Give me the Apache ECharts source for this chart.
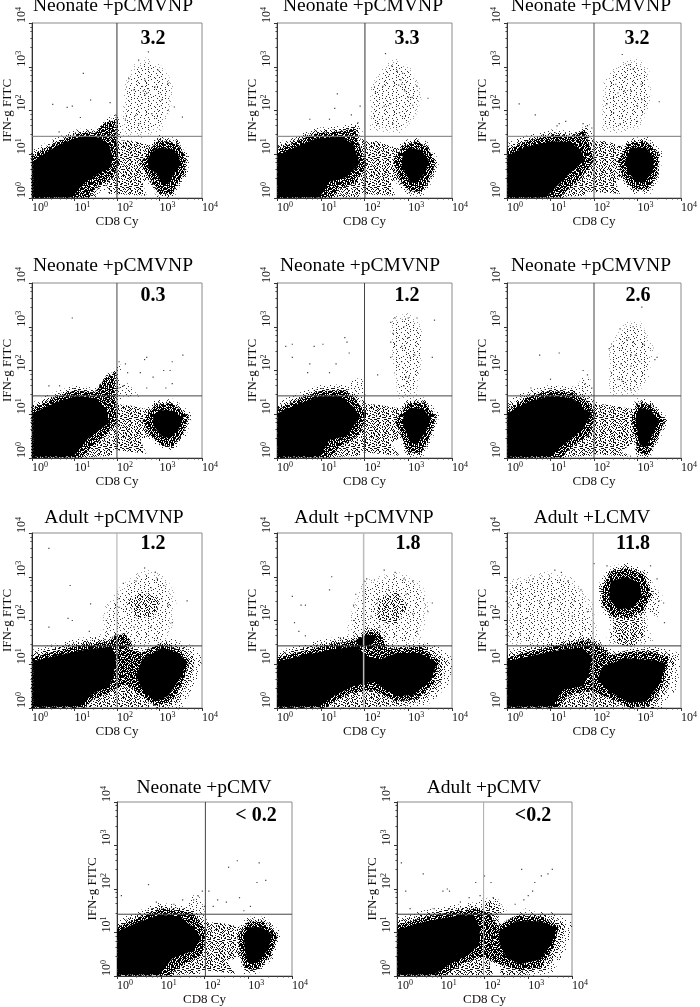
<!DOCTYPE html>
<html><head><meta charset="utf-8">
<style>html,body{margin:0;padding:0;background:#fff}#c{width:700px;height:1007px}</style>
<script src="https://cdn.jsdelivr.net/npm/echarts@6/dist/echarts.min.js"></script>
</head><body><div id="c"></div>
<script>
const panelTitles=['Neonate +pCMVNP','Neonate +pCMVNP','Neonate +pCMVNP','Neonate +pCMVNP','Neonate +pCMVNP','Neonate +pCMVNP','Adult +pCMVNP','Adult +pCMVNP','Adult +LCMV','Neonate +pCMV','Adult +pCMV'];
const panelPercents=['3.2','3.3','3.2','0.3','1.2','2.6','1.2','1.8','11.8','< 0.2','<0.2'];
const tickDecades=[0,1,2,3,4];
const gateCD8=[2,2.01,2,2,2,2,2,1.98,1.98,2.02,1.98];
const gateIFN=[1.41,1.41,1.41,1.42,1.42,1.42,1.42,1.42,1.42,1.42,1.42];

// solid (fully saturated) populations
const solid1=[[[.03,.02],[.03,.84],[.3,1.02],[.6,1.2],[1,1.36],[1.3,1.42],[1.6,1.38],[1.82,1.2],[1.9,.95],[1.85,.7],[1.6,.58],[1.3,.4],[1.1,.2],[.95,.02]],[[2.98,1.15],[3.3,1.12],[3.47,.95],[3.47,.72],[3.3,.5],[3.2,.32],[3.05,.32],[2.95,.55],[2.74,.68],[2.72,.9],[2.82,1.05]]];
const solid2=[[[.02,.02],[.02,.98],[.44,1.17],[.9,1.36],[1.44,1.4],[1.74,1.24],[1.89,.79],[1.59,.48],[1.2,.37],[.98,.02]],[[3,1.15],[3.3,1.1],[3.47,.85],[3.4,.6],[3.2,.35],[3.05,.35],[2.95,.55],[2.85,.75],[2.87,.98]]];
const solid3=[[[.02,.02],[.02,.98],[.44,1.17],[1.05,1.3],[1.44,1.28],[1.7,1.1],[1.78,.86],[1.44,.56],[1.13,.25],[.9,.02]],[[2.85,1.15],[3.2,1.15],[3.38,.9],[3.35,.6],[3.15,.35],[2.95,.38],[2.78,.6],[2.72,.85]]];
const solid4=[[[.03,.03],[.03,1.03],[.53,1.26],[1.02,1.41],[1.48,1.37],[1.75,1.11],[1.82,.8],[1.37,.5],[.98,.04]],[[3,1.1],[3.3,1.08],[3.56,.92],[3.45,.65],[3.25,.45],[3.05,.5],[2.85,.75],[2.85,.95]]];
const solid5=[[[.02,.03],[.02,1.03],[.44,1.22],[.98,1.41],[1.44,1.41],[1.74,1.18],[1.9,.95],[1.59,.5],[1.2,.42],[.98,.04]],[[3.05,1.15],[3.35,1.12],[3.52,.9],[3.4,.6],[3.2,.32],[3.05,.35],[2.95,.6],[2.87,.8],[2.9,1]]];
const solid6=[[[.02,.03],[.02,1.03],[.5,1.29],[.98,1.41],[1.5,1.37],[1.78,1.11],[1.95,1.03],[1.74,.65],[1.44,.42],[.98,.04]],[[3.05,1.15],[3.3,1.1],[3.5,.85],[3.35,.55],[3.2,.25],[3.05,.3],[3,.6],[2.95,.9]]];
const solid7=[[[.03,.03],[.03,1.07],[.68,1.22],[1.29,1.34],[1.85,1.4],[1.98,1.18],[1.92,.75],[1.82,.5],[1.44,.34],[1.14,.04]],[[2.59,1.11],[3.05,1.37],[3.43,1.26],[3.64,1.07],[3.52,.73],[3.2,.27],[2.89,.15],[2.6,.42],[2.45,.72]]];
const solid8=[[[.02,.03],[.02,1.07],[.67,1.22],[1.28,1.34],[1.82,1.41],[2.05,1.18],[2.35,1.11],[2.73,1.26],[3.27,1.26],[3.65,1.03],[3.53,.65],[3.11,.3],[2.73,.27],[2.2,.61],[1.74,.5],[1.28,.27],[.98,.04]],[[1.78,1.53],[2.05,1.68],[2.28,1.64],[2.17,1.45],[1.9,1.41]]];
const solid9=[[[.02,.03],[.02,1.07],[.67,1.22],[1.28,1.34],[1.72,1.38],[1.95,1.18],[1.88,.75],[1.74,.5],[1.28,.42],[1.05,.04]],[[2.2,.95],[2.73,1.14],[3.27,1.1],[3.65,1.03],[3.53,.58],[3.19,.15],[2.81,.12],[2.35,.38],[2.08,.65]],[[2.38,2.9],[2.75,3],[3.05,2.85],[3.1,2.55],[2.9,2.3],[2.55,2.25],[2.35,2.5]]];
const solid10=[[[.02,.03],[.02,1.03],[.44,1.22],[.98,1.41],[1.44,1.37],[1.74,1.11],[1.93,.88],[1.74,.58],[1.28,.42],[.98,.04]],[[3,1.12],[3.3,1.12],[3.55,.95],[3.45,.6],[3.2,.3],[3,.3],[2.92,.6],[2.9,.9]]];
const solid11=[[[.02,.03],[.02,1.07],[.67,1.26],[1.28,1.37],[1.75,1.41],[1.9,1.11],[1.88,.75],[1.66,.5],[1.2,.27],[.86,.04]],[[2.32,1.03],[2.73,1.26],[3.27,1.26],[3.65,1.11],[3.53,.73],[3.27,.38],[2.81,.27],[2.5,.42],[2.35,.73]]];

// dense speckle around the populations
const dense1=[[[0,0],[0,.95],[.3,1.12],[.7,1.32],[1.1,1.48],[1.5,1.5],[1.72,1.72],[1.95,1.78],[1.98,1.35],[2.05,.8],[1.9,.45],[1.5,.25],[1.35,.02]],[[2.55,.8],[2.8,1.15],[3,1.32],[3.4,1.25],[3.62,.95],[3.58,.55],[3.4,.3],[3.3,.1],[3,.1],[2.8,.4]]];
const dense2=[[[0,0],[0,1.1],[.44,1.3],[.9,1.48],[1.44,1.52],[1.78,1.6],[1.85,1.3],[2.05,.75],[1.8,.35],[1.4,.2],[1.25,.02]],[[2.65,.85],[2.9,1.2],[3.2,1.3],[3.45,1.15],[3.62,.8],[3.5,.45],[3.3,.15],[3.05,.15],[2.8,.4]]];
const dense3=[[[0,0],[0,1.1],[.44,1.3],[1.05,1.45],[1.5,1.42],[1.78,1.55],[1.9,1.2],[2,.85],[1.7,.45],[1.35,.15],[1.2,.02]],[[2.55,.85],[2.8,1.25],[3.2,1.3],[3.48,1],[3.45,.55],[3.25,.2],[2.9,.2],[2.65,.5]]];
const dense4=[[[0,0],[0,1.12],[.53,1.38],[1.02,1.55],[1.48,1.5],[1.7,1.8],[1.95,1.95],[1.95,1.3],[2,.8],[1.6,.4],[1.35,.2],[1.2,.02]],[[2.6,.85],[2.9,1.22],[3.3,1.25],[3.68,.95],[3.55,.55],[3.3,.25],[3.05,.3],[2.75,.55]]];
const dense5=[[[0,0],[0,1.1],[.44,1.32],[.98,1.53],[1.5,1.55],[1.75,1.4],[2.05,1],[1.9,.55],[1.5,.3],[1.2,.02]],[[2.7,.85],[3,1.25],[3.35,1.27],[3.63,.95],[3.5,.5],[3.3,.12],[3,.12],[2.85,.5]]];
const dense6=[[[0,0],[0,1.1],[.5,1.4],[.98,1.53],[1.5,1.5],[1.85,1.3],[2.05,1],[1.9,.55],[1.55,.3],[1.25,.02]],[[2.85,.9],[3,1.25],[3.3,1.22],[3.63,.85],[3.45,.45],[3.25,.08],[3,.12],[2.95,.5]]];
const dense7=[[[0,0],[0,1.15],[.68,1.33],[1.29,1.47],[1.9,1.52],[2.1,1.45],[2.55,1.25],[3.05,1.47],[3.5,1.32],[3.7,1.07],[3.58,.65],[3.3,.15],[2.89,.05],[2.5,.35],[2.2,.55],[1.8,.35],[1.44,.2],[1.25,.02]],[[1.75,1.45],[1.95,1.65],[2.2,1.7],[2.35,1.45],[2.1,1.3]]];
const dense8=[[[0,0],[0,1.15],[.67,1.32],[1.28,1.47],[1.8,1.55],[2.05,1.75],[2.35,1.72],[2.5,1.37],[2.73,1.36],[3.3,1.4],[3.72,1.07],[3.58,.55],[3.2,.2],[2.73,.15],[2.2,.4],[1.7,.35],[1.3,.15],[1.15,.02]]];
const dense9=[[[0,0],[0,1.15],[.67,1.32],[1.28,1.45],[1.78,1.55],[2.1,1.45],[2.4,1.2],[2.73,1.28],[3.27,1.3],[3.72,1.15],[3.58,.5],[3.25,.05],[2.81,.02],[2.3,.25],[1.9,.4],[1.4,.3],[1.2,.02]],[[2.18,2.75],[2.4,3.12],[2.75,3.2],[3.15,3.05],[3.32,2.6],[3.1,2.2],[2.8,2.05],[2.4,2.1],[2.2,2.4]]];
const dense10=[[[0,0],[0,1.12],[.44,1.33],[.98,1.55],[1.44,1.5],[1.75,1.45],[2.05,1],[1.95,.5],[1.5,.25],[1.2,.02]],[[2.75,.9],[3,1.25],[3.35,1.25],[3.66,.95],[3.5,.45],[3.2,.15],[2.95,.15],[2.82,.5]]];
const dense11=[[[0,0],[0,1.17],[.67,1.36],[1.28,1.48],[1.82,1.55],[2.1,1.45],[2.3,1.15],[2.73,1.38],[3.3,1.36],[3.7,1.15],[3.58,.65],[3.3,.2],[2.8,.12],[2.3,.3],[1.97,.45],[1.5,.3],[1.1,.02]]];

// thinner speckle: bridge between the two lower populations, tail above the gate
const mid1=[[[1.8,.1],[1.8,1.3],[2.3,1.32],[2.8,1.2],[2.8,.5],[2.6,.35],[2.7,.05]],[[.1,.02],[1.5,.02],[1.5,.5],[.9,.3]]];
const mid2=[[[1.8,.1],[1.8,1.3],[2.3,1.3],[2.85,1.1],[2.85,.5],[2.6,.35],[2.7,.05]],[[1,.02],[1.9,.02],[1.9,.5],[1.4,.4]]];
const mid3=[[[1.8,.15],[1.8,1.3],[2.3,1.3],[2.7,1.15],[2.7,.5],[2.5,.35],[2.6,.1]],[[1,.02],[1.8,.05],[1.8,.5],[1.4,.35]]];
const mid4=[[[1.8,.2],[1.8,1.25],[2.3,1.2],[2.8,1.1],[2.8,.55],[2.55,.4],[2.7,.1]],[[1.2,.02],[1.9,.05],[1.9,.5],[1.5,.35]]];
const mid5=[[[1.8,.15],[1.8,1.25],[2.3,1.22],[2.9,1.12],[2.9,.5],[2.6,.35],[2.8,.05]],[[1.1,.02],[1.9,.05],[1.9,.5],[1.5,.35]]];
const mid6=[[[1.85,.1],[1.85,1.25],[2.3,1.22],[3,1.1],[3,.4],[2.6,.15],[2.9,.03]],[[1.15,.02],[1.95,.05],[1.95,.5],[1.5,.35]]];
const mid7=[[[2,.02],[2,1.3],[2.6,1.22],[2.6,.35],[2.8,.02]],[[1.25,.02],[2,.02],[2,.5],[1.5,.2]],[[2.25,2.45],[2.6,2.65],[3,2.5],[2.9,2.1],[2.45,2.05]]];
const mid8=[[[1.9,.02],[1.9,.5],[2.3,.6],[2.8,.25],[3,.05]],[[1.2,.02],[1.9,.02],[1.9,.4],[1.4,.2]],[[2.3,2.5],[2.75,2.65],[3,2.3],[2.7,1.9],[2.3,2]]];
const mid9=[[[1.9,.02],[1.95,1.35],[2.35,1.1],[2.25,.4],[2.6,.1],[2.5,.02]],[[1.1,.02],[1.9,.02],[1.9,.45],[1.4,.35]],[[2.45,2.1],[3.1,2.15],[3.15,1.65],[2.9,1.4],[2.5,1.45]]];
const mid10=[[[1.85,.15],[1.85,1.25],[2.4,1.22],[2.95,1.1],[2.9,.45],[2.5,.35],[2.7,.05]],[[1.05,.02],[1.9,.05],[1.9,.5],[1.5,.3]]];
const mid11=[[[2,.45],[1.85,1.5],[2.15,1.75],[2.35,1.6],[2.3,1.1],[2.3,.4]],[[1.05,.02],[2.2,.02],[2.1,.35],[1.95,.5],[1.5,.3]],[[2.35,.02],[3,.02],[2.8,.2],[2.4,.3]]];

// sparse events (IFN-g positive clusters and other thin areas)
const sparse1=[[[2.2,1.55],[2.25,2.55],[2.45,2.95],[2.7,3.1],[3.05,2.9],[3.25,2.55],[3.2,2.1],[3,1.65],[2.6,1.5]]];
const sparse2=[[[2.2,1.65],[2.2,2.5],[2.5,2.95],[2.75,3.1],[3.05,2.85],[3.25,2.35],[3.1,1.9],[2.8,1.6]]];
const sparse3=[[[2.25,1.65],[2.3,2.65],[2.6,3],[2.95,3.1],[3.2,2.85],[3.25,2.2],[3,1.7],[2.6,1.6]]];
const sparse4=[[[1.95,1.42],[2,1.85],[2.25,1.7],[2.5,1.42]]];
const sparse5=[[[2.8,1.5],[2.65,2.5],[2.65,3.1],[3.05,3.2],[3.3,2.85],[3.25,2.1],[3.15,1.5]],[[1.55,1.5],[1.75,1.8],[1.95,1.8],[2,1.45]]];
const sparse6=[[[2.4,1.55],[2.4,2.5],[2.75,3],[3.05,3],[3.3,2.5],[3.2,1.85],[2.95,1.55]],[[1.55,1.5],[1.75,1.85],[1.9,1.8],[1.95,1.45]]];
const sparse7=[[[1.7,1.55],[1.85,2.35],[2.15,2.7],[2.6,3.05],[3.05,2.95],[3.3,2.45],[3.2,1.9],[3,1.5],[2.4,1.45]]];
const sparse8=[[[1.65,1.55],[1.85,2.3],[2.05,2.8],[2.7,3],[3.2,2.8],[3.35,2.3],[3.2,1.65],[2.85,1.45],[2.3,1.75]]];
const sparse9=[[[.1,1.55],[.1,2.8],[.9,3],[1.45,2.9],[1.85,2.35],[2,1.5],[1.2,1.5]],[[2.35,1.5],[2.4,2.1],[3.15,2.1],[3.3,1.5]],[[3.2,2.2],[3.35,2.8],[3.55,2.55],[3.48,2.1]]];
const sparse10=[[[1.55,1.5],[1.72,1.85],[1.9,1.8],[2,1.45]]];
const sparse11=[[[1.75,1.45],[1.9,1.75],[2.25,1.8],[2.5,1.45]],[[2.75,1.42],[2.95,1.55],[3.15,1.42]]];

// individually readable events
const events1=[[.49,2.14],[.83,2.07],[.95,2.1],[1.21,2.85],[1.38,2.24],[1.84,2.18],[1.14,1.84],[2.74,3.34],[2.51,3.15],[2.66,2.69],[2.97,2.92],[2.7,2.39],[2.4,2.47],[3.05,2.24],[3.2,2],[3.35,2.08],[3.54,1.85],[2.44,1.89],[2.51,1.7],[2.2,1.78],[2.82,1.93],[3.2,2.62],[2.59,2.16],[2.89,2.54],[2.28,2.73],[1.67,1.47],[1.82,1.63],[1.98,1.89],[.98,1.47],[.64,1.51],[2.62,2.45],[2.72,2.5],[2.6,2.55],[2.66,2.35]];
const events2=[[1.38,2.38],[1.32,2.05],[1.7,1.9],[1.9,2.1],[1.85,1.72],[.75,1.8],[1.2,1.8],[2.48,3.3],[2.62,3.02],[2.75,2.9],[2.87,2.85],[2.78,2.58],[2.92,2.45],[3,2.3],[3.09,2.3],[3.1,2.12],[3.45,2.28],[2.42,2.55],[2.25,2.4],[2.45,2.1],[2.5,1.8],[2.65,1.7],[2.8,1.95],[2.6,2.15],[2.3,1.7],[2.85,2.6],[2.83,2.7],[3.2,2.55]];
const events3=[[.28,2.15],[.65,1.9],[1.15,1.65],[1.2,1.7],[1.35,1.75],[1.75,1.7],[1.85,1.65],[1.95,1.6],[2.65,3.28],[2.8,3.05],[2.72,2.75],[2.5,2.6],[2.45,2.3],[2.72,2.2],[3.05,2.8],[3.08,2.6],[3.1,2.25],[3.5,2.2],[2.3,2.15],[2.45,1.95],[2.6,1.7],[3,1.75],[2.85,2.45],[2.55,2.4],[2.7,2.45],[3,2.1],[2.9,2.95]];
const events4=[[.4,1.65],[.65,1.65],[.95,3.2],[1.6,1.6],[1.8,1.7],[1.92,1.95],[2.05,2.2],[2.2,2.15],[2.25,1.95],[2.55,1.95],[2.7,2.3],[2.65,2.25],[3.1,2],[3.25,2],[3.3,2.2],[3.55,2.35],[2.05,1.6],[2.15,1.65],[2.7,1.6],[3.15,1.6],[3.3,1.7],[2.85,1.85]];
const events5=[[.2,2.55],[.35,2.6],[.35,2.3],[.85,2.55],[1.05,2.6],[1.55,2.75],[1.6,2.65],[.7,1.95],[.75,2.15],[1.2,1.95],[1.35,2.15],[1.65,2.4],[2.7,3.2],[2.6,3.1],[3,3.2],[3.2,3.2],[2.65,2.85],[2.9,3],[3,2.75],[2.85,2.55],[2.6,2.65],[3.05,2.3],[3.15,2.35],[3.55,2.3],[3.6,3.15],[2.85,2.2],[2.6,2.3],[2.3,1.9],[2.95,1.85],[2.98,1.75],[3.02,1.85],[2.9,1.65]];
const events6=[[.75,2.35],[1.2,2.4],[1,1.8],[.55,1.6],[1.75,2],[1.85,1.9],[1.8,1.7],[1.95,1.6],[3.1,3.45],[2.9,3],[2.8,2.75],[2.9,2.65],[2.45,2.55],[2.85,2.35],[2.95,2.35],[3.05,2.2],[2.62,2.15],[2.55,1.8],[2.65,1.75],[2.85,2.1],[3.45,2.3],[3.4,2.25],[2.95,1.75],[2.85,1.55],[2.35,2.5],[3.15,2.6],[2.75,2.7],[2.6,2.95]];
const events7=[[.4,3.65],[.9,2.8],[1.38,2.38],[.95,2],[.85,2.05],[.4,1.85],[1.35,1.75],[1.75,2],[2.65,3.2],[2.9,3.1],[2.15,2.85],[2.45,2.9],[2.05,2.5],[2.05,2.3],[2.8,2.75],[2.6,2.55],[3.05,2.5],[3.2,2.35],[3.65,2.45],[3.3,1.95],[2.4,1.85],[2.8,1.85],[1.9,1.62],[2,1.68],[2.15,1.55],[2.95,2.95],[3.1,2.8],[2.5,2.1]];
const events8=[[.35,2.55],[.55,2.35],[.65,2.35],[1.25,3],[1.2,2.7],[.4,1.95],[.5,1.75],[.65,1.65],[1.75,2.35],[1.8,2.6],[2,2.9],[2.05,2.95],[2.45,3.15],[2.7,3.1],[2.9,2.95],[3.1,2.9],[3.35,2.5],[3.45,2.2],[2.55,2.7],[2.95,2.6],[3.1,2.15],[2.15,2.1],[2.55,1.85],[3.2,1.75],[2.35,1.85],[1.75,2],[1.45,1.6],[3.55,2.4]];
const events9=[[.1,2.6],[.2,2.75],[.3,2.35],[.6,2.95],[1.1,3.15],[1.25,3.1],[.75,2.45],[1,2.4],[1.1,2.5],[1.2,2.55],[1.55,2.45],[.45,2.05],[.65,2.55],[1.7,2.7],[1.4,2.9],[1.8,1.8],[1.45,1.65],[2,3.3],[2.3,3.25],[3.3,3.25],[3.5,2.45],[3.45,2.95],[3.6,2.4],[3.62,1.95],[.9,1.8],[.3,1.7],[1.85,2.2],[1.5,2.1]];
const events10=[[.1,1.85],[.72,2.1],[.9,1.7],[.8,1.55],[1.3,1.65],[1.5,1.75],[1.3,1.55],[1.75,1.75],[1.85,1.85],[1.95,1.95],[2.1,1.95],[2,1.6],[2.3,1.75],[2.55,2.5],[2.75,2.65],[3.25,2.6],[3.4,2.2],[3.2,2.15],[2.8,1.8],[2.9,1.5],[3.05,1.6],[2.5,1.7],[2.2,1.6]];
const events11=[[.1,2.6],[.2,1.95],[.6,2.35],[.3,1.55],[1.15,2],[1.2,1.95],[1.05,1.95],[1.8,2.15],[2,2.3],[2.15,2.15],[2.85,2.45],[3.15,2.15],[3.3,2.3],[3.45,2.35],[3.55,2.45],[2.9,1.75],[3,1.85],[2.7,1.65],[1.65,1.8],[1.45,1.7],[1.9,1.85],[2.2,1.8],[.85,1.55],[1.2,1.55],[3.1,1.95]];

const solidSets=[solid1,solid2,solid3,solid4,solid5,solid6,solid7,solid8,solid9,solid10,solid11];
const denseSets=[dense1,dense2,dense3,dense4,dense5,dense6,dense7,dense8,dense9,dense10,dense11];
const midSets=[mid1,mid2,mid3,mid4,mid5,mid6,mid7,mid8,mid9,mid10,mid11];
const sparseSets=[sparse1,sparse2,sparse3,sparse4,sparse5,sparse6,sparse7,sparse8,sparse9,sparse10,sparse11];
const eventSets=[events1,events2,events3,events4,events5,events6,events7,events8,events9,events10,events11];

// ---- layout and style (not data) ----
const frames=[[27,23],[277,23],[507,23],[27,283],[277,283],[507,283],[27,533],[277,533],[507,533],[117,802],[397,802]];
const titleCenters=[[113,7],[363,7],[591,7],[113,267],[360,267],[591,267],[114,519],[364,519],[592,519],[204,789],[484,789]];
const percentCenters=[[153,40],[407,40],[637,40],[153,297],[407,297],[638,297],[153,545],[408,545],[633,545],[256,817],[533,817]];
const vGateStyle=[['#333',1],['#333',1],['#555',1],['#444',1],['#444',1],['#444',1],['#aaa',1],['#bbb',1.5],['#999',1],['#444',1],['#aaa',1]];
const hGateStyle=[['#777',1],['#777',1],['#777',1],['#444',1],['#444',1],['#444',1],['#333',1],['#333',1],['#333',1],['#444',1],['#333',1]];
const SIZE=175, FONT='"Liberation Serif","Times New Roman",serif';

// Hand-typed speckle mask: a pixel is painted when its digit is below the layer's level.
const speckleMask=[
'7309148265077192846573418294660','2856103749911635074926180357422','9047382615096482731509846273180',
'4186925037418209573648125096755','6530291784605378294670351829143','1794806352917486035291740863527',
'8320657194062815947306281594769','3679140285736912048573691204818','0258471639025847163902584716333',
'5913086427591308642759130864204','7468295013674829501367482950156','2105739864021057398640210573998',
'9684312057896843120578968431277','4812076593481207659348120765901','1357902846135790284613579028486',
'6094281735609428173560942817332','8731564029873156402987315640265','2506839174625068391746250683914',
'7149620385714962038571496203878','3478051926347805192634780519250','0925316847092531684709253168499',
'5261794038256179403825617940311','8603427519686034275196860342744','4729016385140962738150493827665',
'1390758264917503682419068537120','6841295073326710984562073194858','3056817429640198237561490826371',
'9217460358835024169973016842592','5708392146172936501480657239046'];
function tile(level,color){
  const c=document.createElement('canvas');c.width=speckleMask[0].length;c.height=speckleMask.length;
  const g=c.getContext('2d');g.fillStyle=color;
  speckleMask.forEach((row,y)=>[...row].forEach((d,x)=>{if(+d<level)g.fillRect(x,y,1,1);}));
  return {image:c,repeat:'repeat'};
}
const fills={faint:tile(1,'#999'),sparse:tile(1,'#333'),mid:tile(3,'#111'),dense:tile(7,'#000'),solid:'#000'};

const toValue=p=>[Math.pow(10,p[0]),Math.pow(10,p[1])];
// grow: soft edge drawn by enlarging a read outline about its own centre (styling only)
function polygonSeries(i,polys,fill,z,grow){
  return {type:'custom',xAxisIndex:i,yAxisIndex:i,z,silent:true,clip:true,
    data:polys.map(p=>toValue(p[0])),
    renderItem(params,api){
      const poly=polys[params.dataIndex];
      const cx=poly.reduce((s,p)=>s+p[0],0)/poly.length, cy=poly.reduce((s,p)=>s+p[1],0)/poly.length;
      const pts=poly.map(p=>api.coord(toValue([cx+(p[0]-cx)*grow,cy+(p[1]-cy)*grow])));
      return {type:'polygon',shape:{points:pts},style:{fill}};
    }};
}
const grid=[],xAxis=[],yAxis=[],series=[],title=[];
const decadeLabel=v=>`{b|10}{s|${Math.round(Math.log10(v))}}`;
const labelRich={b:{fontFamily:FONT,fontSize:12,color:'#111'},s:{fontFamily:FONT,fontSize:8,color:'#111',verticalAlign:'top',lineHeight:14}};
const nameStyle={fontFamily:FONT,fontSize:13,color:'#111'};
frames.forEach((f,i)=>{
  grid.push({left:f[0],top:f[1],width:SIZE,height:SIZE,show:true,borderColor:'#8a8a8a',borderWidth:1,backgroundColor:'#fff',containLabel:false});
  const common={type:'log',logBase:10,min:Math.pow(10,tickDecades[0]),max:Math.pow(10,tickDecades[4]),gridIndex:i,splitLine:{show:false},minorSplitLine:{show:false},
    axisLine:{show:true,onZero:false,lineStyle:{color:'#333',width:1}},axisTick:{show:true,length:3,lineStyle:{color:'#333'}},
    minorTick:{show:true,splitNumber:5,length:1.5,lineStyle:{color:'#444'}},nameLocation:'middle',nameTextStyle:nameStyle};
  xAxis.push({...common,name:'CD8 Cy',nameGap:17,
    axisLabel:{show:true,formatter:decadeLabel,rich:labelRich,align:'left',margin:3,showMinLabel:true,showMaxLabel:true,hideOverlap:false}});
  yAxis.push({...common,name:'IFN-g FITC',nameGap:17,
    axisLabel:{show:true,formatter:decadeLabel,rich:labelRich,rotate:90,align:'left',verticalAlign:'bottom',margin:3,showMinLabel:true,showMaxLabel:true,hideOverlap:false}});
  series.push(polygonSeries(i,sparseSets[i],fills.faint,1,1.16));
  series.push(polygonSeries(i,sparseSets[i],fills.sparse,2,1));
  series.push(polygonSeries(i,midSets[i],fills.mid,3,1));
  series.push(polygonSeries(i,denseSets[i],fills.sparse,3,1.2));
  series.push(polygonSeries(i,denseSets[i],fills.mid,3,1.09));
  series.push(polygonSeries(i,denseSets[i],fills.dense,4,1));
  series.push(polygonSeries(i,solidSets[i],fills.solid,5,1));
  series.push({type:'scatter',xAxisIndex:i,yAxisIndex:i,z:6,silent:true,symbol:'rect',symbolSize:1.2,itemStyle:{color:'#111'},data:eventSets[i].map(toValue)});
  series.push({type:'line',xAxisIndex:i,yAxisIndex:i,z:7,silent:true,symbol:'none',lineStyle:{color:vGateStyle[i][0],width:vGateStyle[i][1]},
    data:[[Math.pow(10,gateCD8[i]),1],[Math.pow(10,gateCD8[i]),10000]]});
  series.push({type:'line',xAxisIndex:i,yAxisIndex:i,z:7,silent:true,symbol:'none',lineStyle:{color:hGateStyle[i][0],width:hGateStyle[i][1]},
    data:[[1,Math.pow(10,gateIFN[i])],[10000,Math.pow(10,gateIFN[i])]]});
  title.push({text:panelTitles[i],left:titleCenters[i][0],top:titleCenters[i][1]-11,padding:0,textAlign:'center',
    textStyle:{fontFamily:FONT,fontSize:19.5,fontWeight:'normal',color:'#000'}});
  title.push({text:panelPercents[i],left:percentCenters[i][0],top:percentCenters[i][1]-11,padding:0,textAlign:'center',
    textStyle:{fontFamily:FONT,fontSize:20,fontWeight:'bold',color:'#000'}});
});
const chart=echarts.init(document.getElementById('c'),null,{renderer:'canvas'});
chart.setOption({animation:false,backgroundColor:'#fff',title,grid,xAxis,yAxis,series,tooltip:{show:false},legend:{show:false}});
</script></body></html>
